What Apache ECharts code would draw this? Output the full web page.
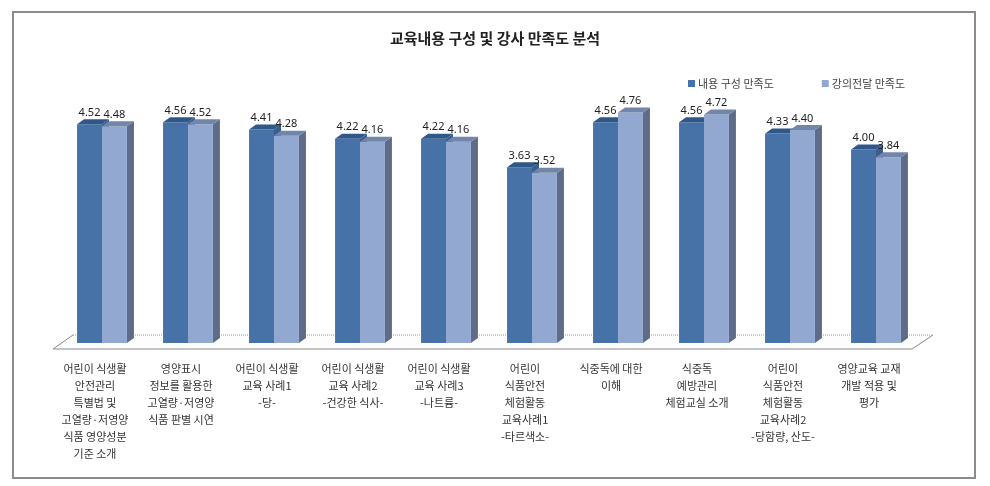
<!DOCTYPE html>
<html>
<head>
<meta charset="utf-8">
<title>교육내용 구성 및 강사 만족도 분석</title>
<script src="https://cdn.jsdelivr.net/npm/echarts@6/dist/echarts.min.js"></script>
<style>
  html, body { margin: 0; padding: 0; background: #fff; }
  #chart { width: 990px; height: 486px; }
</style>
</head>
<body>
<div id="chart"></div>
<script>
  // categories (x axis labels, multi-line as in the source)
  var categories = [
    "어린이 식생활\n안전관리\n특별법 및\n고열량·저영양\n식품 영양성분\n기준 소개",
    "영양표시\n정보를 활용한\n고열량·저영양\n식품 판별 시연",
    "어린이 식생활\n교육 사례1\n-당-",
    "어린이 식생활\n교육 사례2\n-건강한 식사-",
    "어린이 식생활\n교육 사례3\n-나트륨-",
    "어린이\n식품안전\n체험활동\n교육사례1\n-타르색소-",
    "식중독에 대한\n이해",
    "식중독\n예방관리\n체험교실 소개",
    "어린이\n식품안전\n체험활동\n교육사례2\n-당함량, 산도-",
    "영양교육 교재\n개발 적용 및\n평가"
  ];
  var seriesNames = ["내용 구성 만족도", "강의전달 만족도"];
  var contentScore = [4.52, 4.56, 4.41, 4.22, 4.22, 3.63, 4.56, 4.56, 4.33, 4.00];
  var deliveryScore = [4.48, 4.52, 4.28, 4.16, 4.16, 3.52, 4.76, 4.72, 4.40, 3.84];

  var palette = [
    { front: "#4672a8", top: "#2f5888", side: "#3a5e8c" },
    { front: "#93a8d0", top: "#7286a9", side: "#5f6c88" }
  ];
  var depthX = 7, depthY = 5;

  // 3D-ish bar: front face, top face, side face, value label
  function barRenderer(idx) {
    return function (params, api) {
      var i = api.value(0), v = api.value(1);
      var topPt = api.coord([i, v]);
      var basePt = api.coord([i, 0]);
      var bw = api.size([1, 0])[0] * 0.29;
      var x0 = idx === 0 ? topPt[0] - bw : topPt[0];
      var x1 = x0 + bw;
      var yt = topPt[1], yb = basePt[1];
      var c = palette[idx];
      return {
        type: "group",
        children: [
          { type: "polygon", shape: { points: [[x1, yt], [x1 + depthX, yt - depthY], [x1 + depthX, yb - depthY], [x1, yb]] },
            style: { fill: c.side } },
          { type: "rect", shape: { x: x0, y: yt, width: bw, height: yb - yt },
            style: { fill: c.front } },
          { type: "polygon", shape: { points: [[x0, yt], [x0 + depthX, yt - depthY], [x1 + depthX, yt - depthY], [x1, yt]] },
            style: { fill: c.top } },
          { type: "text", z2: 10,
            style: { text: v.toFixed(2), x: (x0 + x1) / 2, y: yt - depthY - 1,
              align: "center", verticalAlign: "bottom",
              fontSize: 11, fontFamily: "Noto Sans", fill: "#222" } }
        ]
      };
    };
  }

  // floor plane under the bars
  function floorRenderer(params, api) {
    var cs = params.coordSys;
    var yb = api.coord([0, 0])[1];
    var fl = cs.x - 6, fr = cs.x + cs.width - 7, fy = yb + 6;
    var bl = cs.x + 14, br = cs.x + cs.width + 14, by = yb - 8;
    return {
      type: "group",
      children: [
        { type: "polygon", shape: { points: [[fl, fy], [bl, by], [br, by], [fr, fy]] },
          style: { fill: "#fdfdfd" } },
        { type: "line", shape: { x1: bl, y1: by, x2: br, y2: by },
          style: { stroke: "#9a9a9a", lineWidth: 1, lineDash: [1, 1] } },
        { type: "polyline", shape: { points: [[bl, by], [fl, fy], [fr, fy], [br, by]] },
          style: { stroke: "#8a8a8a", lineWidth: 1, fill: null } }
      ]
    };
  }

  var chart = echarts.init(document.getElementById("chart"));
  chart.setOption({
    backgroundColor: "#fff",
    animation: false,
    title: {
      text: "교육내용 구성 및 강사 만족도 분석",
      left: "center",
      top: 26,
      textStyle: { fontSize: 15, fontWeight: "bold", color: "#222", fontFamily: "Noto Sans CJK KR" }
    },
    legend: {
      data: seriesNames,
      left: 683,
      top: 73,
      itemWidth: 7,
      itemHeight: 7,
      itemGap: 48,
      icon: "rect",
      textStyle: { fontSize: 11, color: "#444", fontFamily: "Noto Sans CJK KR", padding: [2, 0, 0, -2] }
    },
    graphic: [{
      type: "rect",
      shape: { x: 13, y: 12, width: 962, height: 466 },
      style: { fill: null, stroke: "#8c8c8c", lineWidth: 2 },
      silent: true
    }],
    grid: { left: 59, right: 71, top: 101, bottom: 143 },
    xAxis: {
      type: "category",
      data: categories,
      axisLine: { show: false },
      axisTick: { show: false },
      axisLabel: {
        interval: 0,
        margin: 17,
        fontSize: 11,
        lineHeight: 17,
        color: "#333",
        fontFamily: "Noto Sans CJK KR",
        padding: [0, 14, 0, 0]
      }
    },
    yAxis: { type: "value", min: 0, max: 5, show: false, splitLine: { show: false } },
    series: [
      { type: "custom", name: "floor", data: [[0, 0]], renderItem: floorRenderer, silent: true, z: 1 },
      { type: "custom", name: seriesNames[0], color: palette[0].front,
        data: contentScore.map(function (v, i) { return [i, v]; }),
        encode: { x: 0, y: 1 }, renderItem: barRenderer(0), z: 2 },
      { type: "custom", name: seriesNames[1], color: palette[1].front,
        data: deliveryScore.map(function (v, i) { return [i, v]; }),
        encode: { x: 0, y: 1 }, renderItem: barRenderer(1), z: 3 }
    ]
  });
</script>
</body>
</html>
